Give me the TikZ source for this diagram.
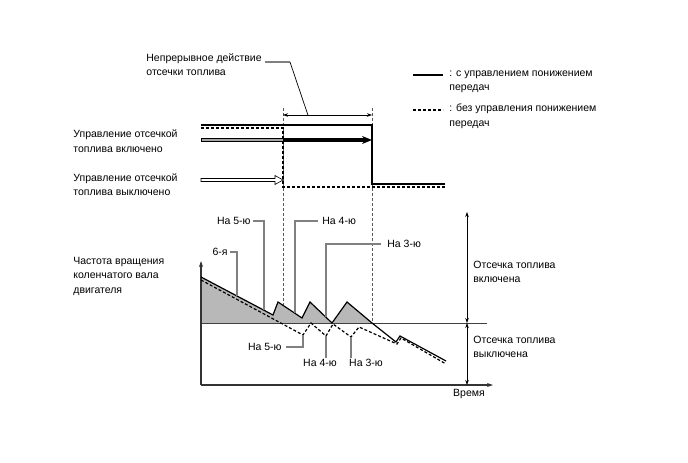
\documentclass[tikz,border=0pt]{standalone}
\usepackage{fontspec}
\setmainfont{Liberation Sans}
\usetikzlibrary{
  arrows.meta, % For arrow tips
  positioning % For relative placement
}

\begin{document}
\begin{tikzpicture}[
      x=1pt, y=-1pt, % pixel grid, y pointing down
      thick, % Default line thickness
      >=Stealth, % Default arrow tip
      font=\fontsize{10.5}{14.5}\selectfont,
      txt/.style={align=left, inner sep=0pt}, % Style for labels
      leader/.style={draw=black!50, line width=1.4pt}, % Style for grey leader lines
      guide/.style={black!65, line width=0.7pt, dash pattern=on 3pt off 2pt},
      dimline/.style={line width=0.6pt, <->, >={Stealth[length=5pt,width=3.5pt]}},
      axis/.style={black!80, line width=1.1pt, ->, >={Stealth[length=6pt,width=4pt]}},
      withdown/.style={black, line width=1.2pt}, % with downshift control
      nodown/.style={black, line width=1.2pt, dash pattern=on 3pt off 2pt}, % without
      cutfill/.style={fill=black!28},
    ]

    \useasboundingbox (0,0) rectangle (688,463);

    \def\xo{201} % left edge of the chart
    \def\yb{323} % fuel cut limit

    % Legend
    \draw[withdown] (413,75) -- (443,75);
    \node[txt, anchor=west] (legA) at (449,82) {: с управлением понижением\\передач};
    \draw[nodown] (413,110) -- (443,110);
    \node[txt, anchor=west] (legB) at (449,116) {: без управления понижением\\передач};

    % Continuous fuel cut span
    \coordinate (gl) at (283,115);
    \coordinate (gr) at (372,115);
    \draw[guide] (283,108) -- (283,\yb);
    \draw[guide] (372,108) -- (372,\yb);
    \draw[dimline] (gl) -- (gr) coordinate[pos=0.28] (dm);
    \node[txt, anchor=west, inner xsep=3pt] (cont) at (143,64.5) {Непрерывное действие\\отсечки топлива};
    \coordinate (kink) at (290,62);
    \draw[leader] (cont.east |- kink) -- (kink);
    \draw[line width=0.7pt] (kink) -- (dm);

    % Fuel cut state lines
    \draw[withdown] (\xo,125) -- (372,125) -- (372,184) -- (445,184);
    \draw[nodown] (\xo,128) -- (283,128) -- (283,187) -- (445,187);

    % Control on: grey bar, then thick arrow
    \filldraw[fill=black!35, draw=black, line width=0.5pt] (\xo,138.3) rectangle (283,141.7);
    \draw[line width=3.2pt, -{Stealth[length=10pt,width=8pt]}] (283,140) -- (372,140);
    % Control off: hollow arrow
    \filldraw[fill=white, draw=black, line width=0.6pt]
      (\xo,178.5) -- (275,178.5) -- (275,175.5) -- (283,180) -- (275,184.5) -- (275,181.5) -- (\xo,181.5) -- cycle;

    \node[txt, anchor=west] (ctlon) at (73,141) {Управление отсечкой\\топлива включено};
    \node[txt, anchor=west] (ctloff) at (73,184.5) {Управление отсечкой\\топлива выключено};

    % Engine speed, with downshift control
    \coordinate (s0) at (\xo,277);
    \coordinate (s1) at (273,315);
    \coordinate (s2) at (278,302);
    \coordinate (s3) at (302,318);
    \coordinate (s4) at (310,302);
    \coordinate (s5) at (332,323);
    \coordinate (s6) at (347,302);
    \coordinate (s7) at (372,323);
    \coordinate (s8) at (396,342);
    \coordinate (s9) at (400,336);
    \coordinate (s10) at (446,361);

    % Engine speed, without downshift control
    \coordinate (d0) at (\xo,280);
    \coordinate (d1) at (303,335);
    \coordinate (d2) at (311,323);
    \coordinate (d3) at (326,336);
    \coordinate (d4) at (333,324);
    \coordinate (d5) at (351,337);
    \coordinate (d6) at (359,327);
    \coordinate (d7) at (397,344);
    \coordinate (d8) at (401,338);
    \coordinate (d9) at (446,364);

    \fill[cutfill] (s0) -- (s1) -- (s2) -- (s3) -- (s4) -- (s5) -- (s6) -- (s7) -- (\xo,\yb) -- cycle;

    % Axes and limit line
    \draw[black!75, line width=0.8pt] (\xo,\yb) -- (487,\yb);
    \draw[axis] (\xo,385) -- (\xo,261);
    \draw[axis] (\xo,385) -- (493,385);

    \draw[nodown] (d0) -- (d1) -- (d2) -- (d3) -- (d4) -- (d5) -- (d6) -- (d7) -- (d8) -- (d9);
    \draw[withdown, line join=miter] (s0) -- (s1) -- (s2) -- (s3) -- (s4) -- (s5) -- (s6) -- (s7) -- (s8) -- (s9) -- (s10);

    % Points on the curve for the leaders
    \path (s0) -- (s1) coordinate[pos=0.5] (c6) coordinate[pos=0.875] (c5);
    \path (s2) -- (s3) coordinate[pos=0.708] (c4);
    \path (s4) -- (s5) coordinate[pos=0.727] (c3);

    \node[txt, anchor=west] (rpm) at (73,276) {Частота вращения\\коленчатого вала\\двигателя};

    % Gear labels, upper
    \node[txt, anchor=east, inner xsep=2pt] (g6) at (230,252) {6-я};
    \draw[leader] (g6.east) -| (c6);
    \node[txt, anchor=east, inner xsep=2pt] (up5) at (253,221) {На 5-ю};
    \draw[leader] (up5.east) -| (c5);
    \node[txt, anchor=west, inner xsep=4pt] (up4) at (318,221) {На 4-ю};
    \draw[leader] (up4.west) -| (c4);
    \node[txt, anchor=west, inner xsep=6pt] (up3) at (381,244) {На 3-ю};
    \draw[leader] (up3.west) -| (c3);

    % Gear labels, lower
    \node[txt, anchor=east, inner xsep=4pt] (lo5) at (286,347) {На 5-ю};
    \draw[leader] (lo5.east) -| (d1);
    \node[txt, inner ysep=1pt] (lo4) at (320,363) {На 4-ю};
    \draw[leader] (d3) -- (d3 |- lo4.north);
    \node[txt, inner ysep=1pt] (lo3) at (366,363) {На 3-ю};
    \draw[leader] (d5) -- (d5 |- lo3.north);

    % Fuel cut zones
    \coordinate (ztop) at (467,212);
    \coordinate (zmid) at (467,\yb);
    \coordinate (zbot) at (467,385);
    \draw[dimline] (ztop) -- (zmid);
    \draw[dimline] (zmid) -- (zbot);
    \node[txt, anchor=west] (cuton) at (473,272) {Отсечка топлива\\включена};
    \node[txt, anchor=west] (cutoff) at (473,347) {Отсечка топлива\\выключена};

    \node[txt] (time) at (469,394) {Время};

  \end{tikzpicture}
\end{document}
